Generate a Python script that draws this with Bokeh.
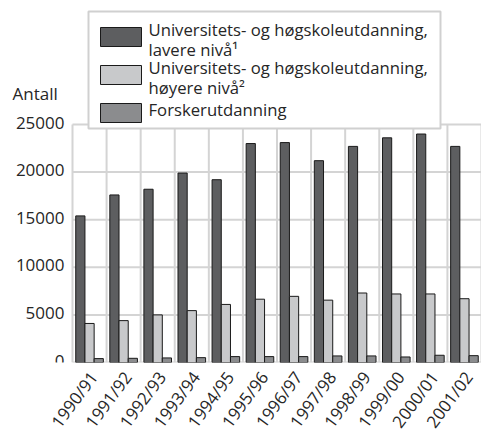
from bokeh.plotting import figure
from bokeh.models import ColumnDataSource, Range1d, FixedTicker, Label
from bokeh.transform import dodge
from bokeh.embed import file_html
from bokeh.resources import INLINE

years = ["1990/91", "1991/92", "1992/93", "1993/94", "1994/95", "1995/96",
         "1996/97", "1997/98", "1998/99", "1999/00", "2000/01", "2001/02"]
lavere = [15400, 17600, 18200, 19900, 19200, 23000, 23100, 21200, 22700, 23600, 24000, 22700]
hoyere = [4100, 4400, 5000, 5450, 6100, 6650, 6950, 6550, 7300, 7200, 7200, 6700]
forsker = [410, 440, 480, 510, 620, 620, 620, 690, 690, 580, 760, 720]
series_names = [["Universitets- og høgskoleutdanning,", "lavere nivå\u00b9"],
                ["Universitets- og høgskoleutdanning,", "høyere nivå\u00b2"],
                ["Forskerutdanning"]]
series_colors = ["#5d5e60", "#c8c9cb", "#8b8c8e"]
y_ticks = [0, 5000, 10000, 15000, 20000, 25000]
y_tick_labels = [str(t) for t in y_ticks]
y_label = "Antall"

FONT = "Open Sans"
TXT = "#262626"
GRID = "#d4d4d4"
EDGE = "#1a1a1a"

n = len(years)
xpos = [i + 0.5 for i in range(n)]
src = ColumnDataSource(dict(x=xpos, lavere=lavere, hoyere=hoyere, forsker=forsker))

# frame covers the full upper area so that legend and labels are not clipped
FW, FH = 481, 362
left_px, top_px = 72, 124          # where x=0 and y=25000 fall
ppu_x = (FW - left_px) / n
x_start = -left_px / ppu_x
y_end = y_ticks[-1] * FH / (FH - top_px)


def dx(px):
    return x_start + px / ppu_x


def dy(py):
    return (FH - py) * y_end / FH


p = figure(output_backend="svg", toolbar_location=None,
           frame_width=FW, frame_height=FH,
           min_border_left=0, min_border_right=0, min_border_top=0, min_border_bottom=70,
           x_range=Range1d(x_start, n), y_range=Range1d(0, y_end))

p.outline_line_color = None
p.background_fill_color = "white"
p.border_fill_color = "white"
p.xgrid.visible = False
p.ygrid.visible = False
p.yaxis.visible = False

# grid lines (bounded to the data area)
p.segment(x0=[0] * len(y_ticks), x1=[n] * len(y_ticks), y0=y_ticks, y1=y_ticks,
          line_color=GRID, line_width=2)
p.segment(x0=list(range(n + 1)), x1=list(range(n + 1)),
          y0=[0] * (n + 1), y1=[y_ticks[-1]] * (n + 1), line_color=GRID, line_width=2)

w = 0.27
for col, off, color in zip(["lavere", "hoyere", "forsker"], [-w, 0, w], series_colors):
    p.vbar(x=dodge("x", off, range=p.x_range), top=col, width=w, source=src,
           fill_color=color, line_color=EDGE, line_width=1)

# y tick labels
p.text(x=[0] * len(y_ticks), y=y_ticks, text=y_tick_labels, x_offset=-8, y_offset=-2,
       text_align="right", text_baseline="middle", text_font={"value": FONT},
       text_font_size="17px", text_color=TXT)

# x axis (labels nudged slightly right of the category centre, as in the original)
label_shift = 0.12
xticks = [x + label_shift for x in xpos]
p.xaxis.ticker = FixedTicker(ticks=xticks)
p.xaxis.major_label_overrides = {x: y for x, y in zip(xticks, years)}
p.xaxis.major_label_orientation = 0.93
p.xaxis.axis_line_color = None
p.xaxis.major_tick_line_color = None
p.xaxis.minor_tick_line_color = None
p.xaxis.major_label_text_font = FONT
p.xaxis.major_label_text_font_size = "17px"
p.xaxis.major_label_text_color = TXT
p.xaxis.major_label_standoff = 5

# legend box (drawn manually for two-line entries with tight line spacing)
box_l, box_t, box_r, box_b = 88, 11, 440, 128
p.quad(left=[dx(box_l)], right=[dx(box_r)], top=[dy(box_t)], bottom=[dy(box_b)],
       fill_color="white", line_color="#d0d0d0", line_width=2)
sw_x, sw_w, sw_h = 100, 41, 19
sw_tops = [27, 65, 103]
txt_x, base_off, line_gap, single_extra = 148, 2, 20, 4
p.quad(left=[dx(sw_x)] * 3, right=[dx(sw_x + sw_w)] * 3,
       top=[dy(t) for t in sw_tops], bottom=[dy(t + sw_h) for t in sw_tops],
       fill_color=series_colors, line_color=EDGE, line_width=1)
lx, ly, lt = [], [], []
for top, lines in zip(sw_tops, series_names):
    extra = single_extra if len(lines) == 1 else 0
    for k, line in enumerate(lines):
        lx.append(dx(txt_x))
        ly.append(dy(top + base_off + extra + k * line_gap))
        lt.append(line)
p.text(x=lx, y=ly, text=lt, text_align="left", text_baseline="alphabetic",
       text_font={"value": FONT}, text_font_size="16.7px", text_color=TXT)

p.add_layout(Label(x=0, y=y_ticks[-1], x_offset=-60, y_offset=20, text=y_label,
                   text_font=FONT, text_font_size="17px", text_color=TXT,
                   text_baseline="bottom"))

open("out.html", "w").write(file_html(p, INLINE))
